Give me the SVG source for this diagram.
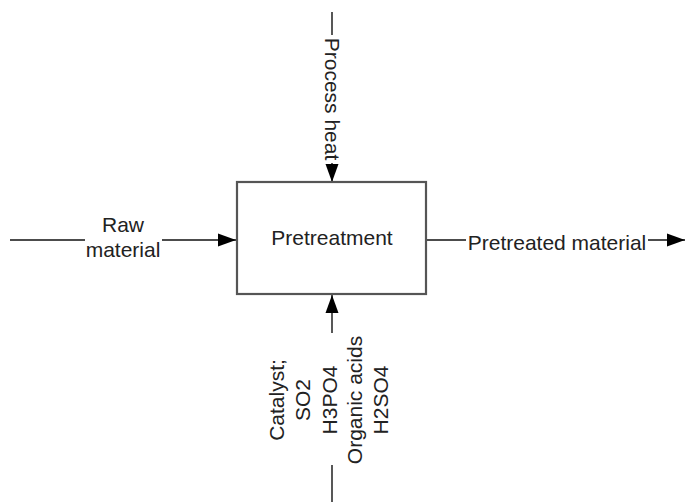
<svg xmlns="http://www.w3.org/2000/svg" width="685" height="502" viewBox="0 0 685 502">
<style>
.t{font-family:"Liberation Sans",Arial,sans-serif;font-size:21px;fill:#222;text-anchor:middle}
.c{stroke:#111;stroke-width:1.4;fill:none}
.box{fill:#fff;stroke:#555;stroke-width:2.2}
</style>
<defs>
<marker id="ah" markerUnits="userSpaceOnUse" markerWidth="18" markerHeight="14" refX="18" refY="7" orient="auto">
<path d="M0,0.5 L18,7 L0,13.5 Z" fill="#000"/>
</marker>
</defs>
<rect width="685" height="502" fill="#fff"/>
<g id="connectors">
<g id="raw-material">
<line class="c" x1="10" y1="240" x2="85" y2="240"/>
<line class="c" x1="162" y1="240" x2="236" y2="240" marker-end="url(#ah)"/>
<text class="t" x="123" y="232">Raw</text>
<text class="t" x="123" y="257">material</text>
</g>
<g id="pretreated-material">
<line class="c" x1="426" y1="240" x2="466" y2="240"/>
<line class="c" x1="648" y1="240" x2="685" y2="240" marker-end="url(#ah)"/>
<text class="t" x="557" y="250">Pretreated material</text>
</g>
<g id="process-heat">
<line class="c" x1="332" y1="12" x2="332" y2="35"/>
<line class="c" x1="332" y1="163" x2="332" y2="182" marker-end="url(#ah)"/>
<text class="t" transform="translate(332,99) rotate(90)" x="0" y="7.5">Process heat</text>
</g>
<g id="catalyst">
<line class="c" x1="332" y1="502" x2="332" y2="465"/>
<line class="c" x1="332" y1="333" x2="332" y2="295" marker-end="url(#ah)"/>
<g transform="translate(0,400) rotate(-90)">
<text class="t" x="0" y="284">Catalyst;</text>
<text class="t" x="0" y="310">SO2</text>
<text class="t" x="0" y="337">H3PO4</text>
<text class="t" x="0" y="362">Organic acids</text>
<text class="t" x="0" y="388">H2SO4</text>
</g>
</g>
</g>
<g id="pretreatment">
<rect class="box" x="237" y="182" width="189" height="112"/>
<text class="t" x="332" y="245">Pretreatment</text>
</g>
</svg>
